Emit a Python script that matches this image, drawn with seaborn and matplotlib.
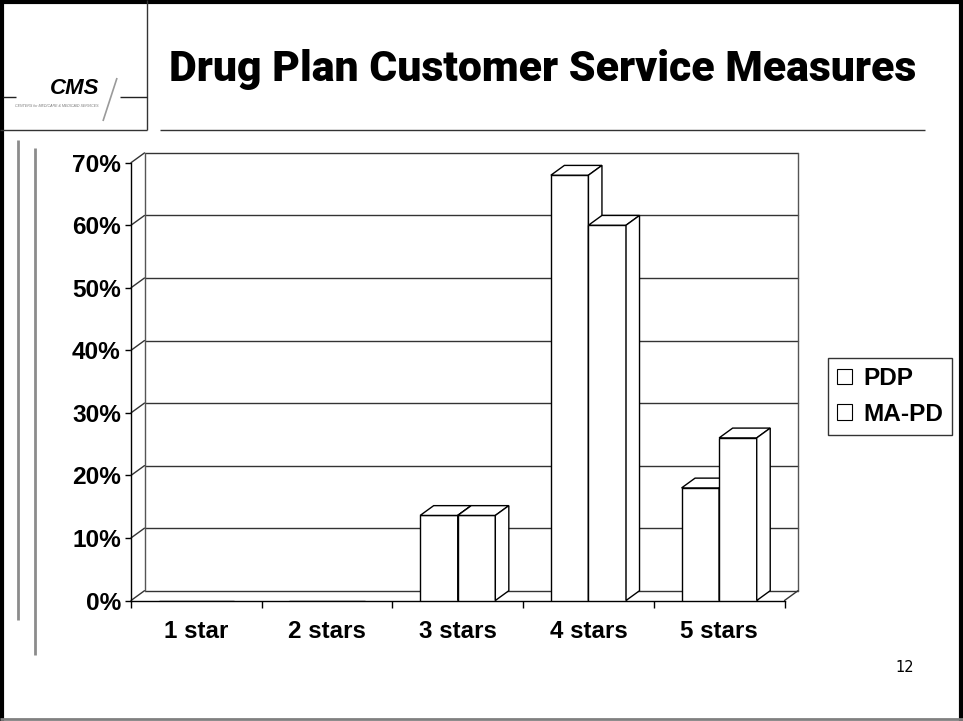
import numpy as np
import pandas as pd
import matplotlib
matplotlib.use("Agg")
import matplotlib.pyplot as plt
import seaborn as sns
from matplotlib.patches import Polygon
from matplotlib.lines import Line2D

# ---- data ----
categories = ["1 star", "2 stars", "3 stars", "4 stars", "5 stars"]
plans = ["PDP", "MA-PD"]
pdp_share = [0.0, 0.0, 0.136, 0.68, 0.18]
mapd_share = [0.0, 0.0, 0.136, 0.60, 0.26]
y_ticks = [0.0, 0.1, 0.2, 0.3, 0.4, 0.5, 0.6, 0.7]
y_tick_labels = ["0%", "10%", "20%", "30%", "40%", "50%", "60%", "70%"]
title_text = "Drug Plan Customer Service Measures"
logo_text = "CMS"
logo_sub = "CENTERS for MEDICARE & MEDICAID SERVICES"
page_number = "12"

df = pd.DataFrame({
    "category": categories * 2,
    "plan": [plans[0]] * len(categories) + [plans[1]] * len(categories),
    "share": pdp_share + mapd_share,
})

# ---- figure / style ----
W, H, DPI = 963, 721, 100
sns.set_style("white")
plt.rcParams["font.family"] = ["Liberation Sans", "DejaVu Sans"]
plt.rcParams["text.color"] = "black"
plt.rcParams["xtick.color"] = "black"
plt.rcParams["ytick.color"] = "black"
plt.rcParams["axes.labelcolor"] = "black"

fig = plt.figure(figsize=(W / DPI, H / DPI), dpi=DPI)
fig.patch.set_facecolor("white")

# slide decoration layer in pixel coordinates
deco = fig.add_axes([0, 0, 1, 1])
deco.set_xlim(0, W)
deco.set_ylim(H, 0)
deco.axis("off")


def seg(x0, y0, x1, y1, color="black", lw=1.0):
    deco.add_line(Line2D([x0, x1], [y0, y1], color=color, lw=lw,
                         solid_capstyle="butt"))


# slide frame
seg(1.5, 0, 1.5, H, lw=3)
seg(0, 1.5, W, 1.5, lw=3)
seg(960.5, 0, 960.5, H, lw=3)
seg(0, 719, W, 719, color="#808080", lw=2)

# header box and rule
seg(147, 0, 147, 130, color="#333333")
seg(0, 130, 147, 130, color="#333333")
seg(160, 130, 925, 130, color="#333333")

# logo
seg(3, 97, 16, 97, color="#222222")
seg(120, 97, 147, 97, color="#222222")
seg(117, 78, 103, 121, color="#9a9a9a", lw=1.2)
deco.text(75, 88, logo_text, fontsize=16, fontweight="bold", fontstyle="italic",
          ha="center", va="center", color="black")
deco.text(57, 106, logo_sub, fontsize=2.6, ha="center", va="center",
          color="#777777", fontstyle="italic")

# title, sized to span the header
title = deco.text(543, 70, title_text, fontsize=30, fontweight="heavy",
                  ha="center", va="center", color="black",
                  family=["Roboto", "DejaVu Sans"])
renderer = fig.canvas.get_renderer()
tw = title.get_window_extent(renderer).width
title.set_fontsize(30 * 746 / tw)

# left margin rules
seg(18, 140, 18, 620, color="#8c8c8c", lw=2)
seg(35, 148, 35, 655, color="#8c8c8c", lw=2)

deco.text(905, 668, page_number, fontsize=10.5, ha="center", va="center",
          family=["DejaVu Sans"])

# ---- chart ----
ax = fig.add_axes([131 / W, 1 - 600.5 / H, (784.5 - 131) / W, (600.5 - 162.7) / H])
ax.patch.set_alpha(0)

sns.barplot(data=df, x="category", y="share", hue="plan", order=categories,
            hue_order=plans, palette={p: "white" for p in plans}, saturation=1,
            width=0.575, gap=0, edgecolor="black", linewidth=1,
            errorbar=None, ax=ax)

ax.set_xlim(-0.5, len(categories) - 0.5)
ax.set_ylim(0, 0.7)

DX, DY = 13.5, 9.8  # depth offset in pixels


def back(x, y):
    d = ax.transData.transform((x, y)) + np.array([DX, DY])
    return ax.transData.inverted().transform(d)


x0, x1 = ax.get_xlim()
wall_kw = dict(color="#333333", lw=1, clip_on=False, zorder=1)

# back wall gridlines and left-wall connectors
for v in y_ticks:
    bl, br = back(x0, v), back(x1, v)
    ax.add_line(Line2D([bl[0], br[0]], [bl[1], br[1]], **wall_kw))
    ax.add_line(Line2D([x0, bl[0]], [v, bl[1]], **wall_kw))
# back wall verticals
for xe in (x0, x1):
    b0, b1 = back(xe, 0), back(xe, y_ticks[-1])
    ax.add_line(Line2D([b0[0], b1[0]], [b0[1], b1[1]], color="#555555", lw=1,
                       clip_on=False, zorder=1))
# floor right edge
fr = back(x1, 0)
ax.add_line(Line2D([x1, fr[0]], [0, fr[1]], **wall_kw))

# 3D faces for each bar, drawn left to right
bars = sorted(ax.patches, key=lambda p: p.get_x())
for i, bar in enumerate(bars):
    z = 3 + i * 0.01
    bar.set_zorder(z)
    h = bar.get_height()
    if h <= 0:
        continue
    xl, xr = bar.get_x(), bar.get_x() + bar.get_width()
    tl, tr = back(xl, h), back(xr, h)
    br0 = back(xr, 0)
    top = Polygon([(xl, h), (xr, h), tr, tl], closed=True, facecolor="white",
                  edgecolor="black", lw=1, clip_on=False, zorder=z + 0.001)
    side = Polygon([(xr, 0), (xr, h), tr, br0], closed=True, facecolor="white",
                   edgecolor="black", lw=1, clip_on=False, zorder=z + 0.001)
    ax.add_patch(top)
    ax.add_patch(side)

# axes, ticks and labels
for s in ("top", "right"):
    ax.spines[s].set_visible(False)
for s in ("left", "bottom"):
    ax.spines[s].set_color("black")
    ax.spines[s].set_linewidth(1)
    ax.spines[s].set_zorder(2)

label_family = ["Liberation Sans", "DejaVu Sans"]
ax.set_yticks(y_ticks, labels=y_tick_labels)
ax.set_xticks(range(len(categories)), labels=categories)
for lab in ax.get_yticklabels():
    lab.set_fontfamily(label_family)
    lab.set_fontweight("bold")
    lab.set_fontsize(17.6)
for lab in ax.get_xticklabels():
    lab.set_fontfamily(label_family)
    lab.set_fontweight("bold")
    lab.set_fontsize(17.4)
ax.set_xticks(np.arange(-0.5, len(categories), 1.0), minor=True)
ax.tick_params(axis="y", which="major", direction="out", length=4.3, width=1,
               pad=3, colors="black", left=True)
ax.tick_params(axis="x", which="major", length=0, pad=14)
ax.tick_params(axis="x", which="minor", direction="out", length=5, width=1,
               bottom=True, color="black")
ax.set_xlabel("")
ax.set_ylabel("")
ax.grid(False)

# legend
handles, labels = ax.get_legend_handles_labels()
if ax.get_legend() is not None:
    ax.get_legend().remove()
leg = fig.legend(handles, labels, loc="upper left",
                 bbox_to_anchor=(828 / W, 1 - 358 / H), bbox_transform=fig.transFigure,
                 frameon=True, fancybox=False, borderaxespad=0,
                 prop=dict(family=label_family, weight="bold", size=17.6),
                 handlelength=0.6, handleheight=0.6, handletextpad=0.45,
                 borderpad=0.38, labelspacing=0.5)
leg.get_frame().set_edgecolor("black")
leg.get_frame().set_linewidth(1)
for hnd in leg.legend_handles:
    hnd.set_facecolor("white")
    hnd.set_edgecolor("black")
    hnd.set_linewidth(0.8)

fig.savefig("out.png", dpi=DPI, facecolor="white")
